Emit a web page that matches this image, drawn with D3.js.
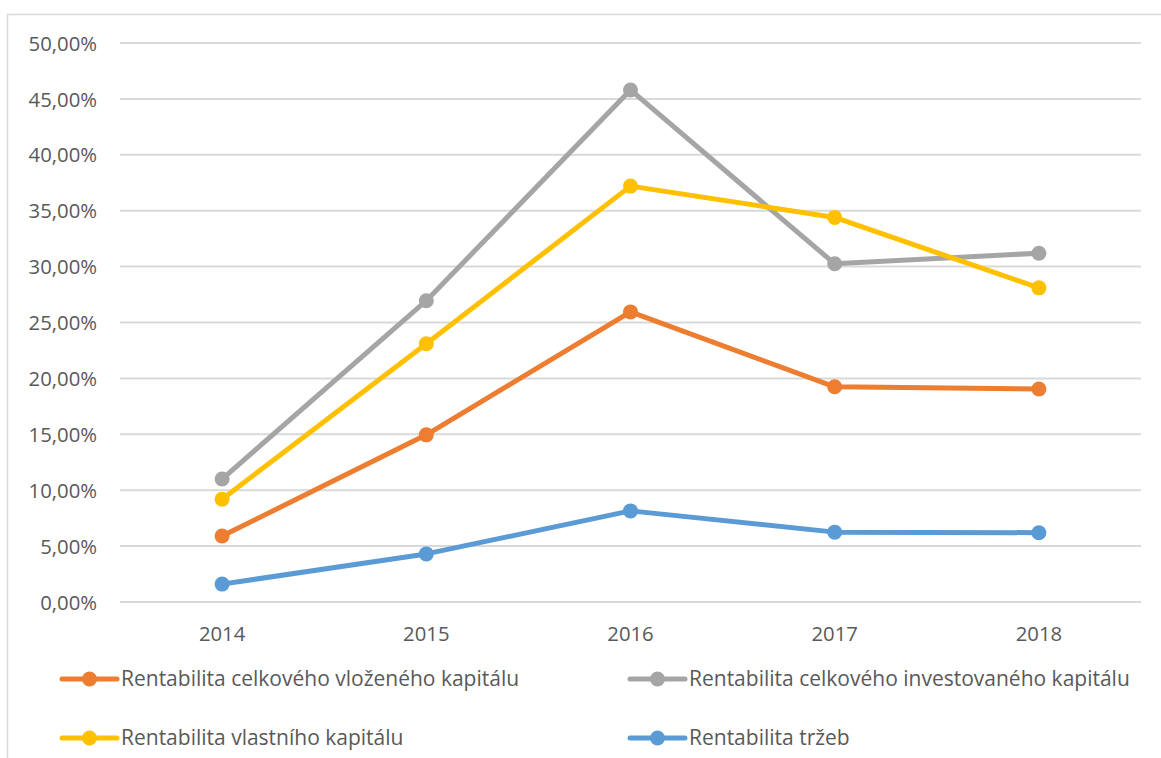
<!DOCTYPE html>
<html><head><meta charset="utf-8">
<script src="https://cdn.jsdelivr.net/npm/d3@7"></script>
<style>body{margin:0;background:#fff;} svg{display:block;}</style>
</head><body>
<svg id="chart" width="1161" height="758"></svg>
<script>
const years = ["2014","2015","2016","2017","2018"];
const seriesNames = [
  "Rentabilita celkového vloženého kapitálu",
  "Rentabilita celkového investovaného kapitálu",
  "Rentabilita vlastního kapitálu",
  "Rentabilita tržeb"
];
const vlozeny = [5.9, 14.95, 25.95, 19.25, 19.05];
const investovany = [11.0, 26.95, 45.8, 30.25, 31.2];
const vlastni = [9.2, 23.1, 37.2, 34.4, 28.1];
const trzby = [1.6, 4.3, 8.15, 6.25, 6.2];
const yTicks = [0,5,10,15,20,25,30,35,40,45,50];
const colors = ["#ED7D31","#A5A5A5","#FFC000","#5B9BD5"];
const allValues = [vlozeny, investovany, vlastni, trzby];

(function(){
const svg = d3.select("#chart");
const font = "Open Sans, sans-serif";
const textColor = "#595959";

svg.append("path").attr("d","M7.5,758 V14.5 H1161").attr("fill","none").attr("stroke","#D9D9D9").attr("stroke-width",1.5);

const pLeft = 120, pRight = 1141, pTop = 43, pBottom = 602;
const x = d3.scaleBand().domain(years).range([pLeft,pRight]);
const y = d3.scaleLinear().domain([0,50]).range([pBottom,pTop]);

svg.append("g").selectAll("line").data(yTicks).join("line")
  .attr("x1",pLeft).attr("x2",pRight)
  .attr("y1",d=>y(d)).attr("y2",d=>y(d))
  .attr("stroke","#D9D9D9").attr("stroke-width",2);

const fmt = d => d.toFixed(2).replace(".",",") + "%";
const yAxis = svg.append("g").attr("transform",`translate(97,0)`)
  .call(d3.axisLeft(y).tickValues(yTicks).tickFormat(fmt).tickSize(0).tickPadding(0));
yAxis.select(".domain").remove();
yAxis.selectAll("text").attr("font-family",font).attr("font-size",20.3).attr("fill",textColor).attr("dy","0.35em");

const xAxis = svg.append("g").attr("transform",`translate(0,${pBottom})`)
  .call(d3.axisBottom(x).tickSize(0).tickPadding(0));
xAxis.select(".domain").remove();
xAxis.selectAll("text").attr("font-family",font).attr("font-size",20.3).attr("fill",textColor).attr("dy","0.35em").attr("y",32);

const line = d3.line().x((d,i)=>x(years[i])+x.bandwidth()/2).y(d=>y(d));
allValues.forEach((vals,k)=>{
  const g = svg.append("g");
  g.append("path").attr("d",line(vals)).attr("fill","none").attr("stroke",colors[k])
    .attr("stroke-width",5).attr("stroke-linejoin","round").attr("stroke-linecap","round");
  g.selectAll("circle").data(vals).join("circle")
    .attr("cx",(d,i)=>x(years[i])+x.bandwidth()/2).attr("cy",d=>y(d)).attr("r",7.5).attr("fill",colors[k]);
});

const legendPos = [[62,679],[630,679],[62,738],[630,738]];
seriesNames.forEach((name,k)=>{
  const [lx,ly] = legendPos[k];
  const g = svg.append("g").attr("transform",`translate(${lx},${ly})`);
  g.append("line").attr("x1",0).attr("x2",55).attr("y1",0).attr("y2",0).attr("stroke",colors[k]).attr("stroke-width",5).attr("stroke-linecap","round");
  g.append("circle").attr("cx",27.5).attr("cy",0).attr("r",7.5).attr("fill",colors[k]);
  g.append("text").attr("x",59).attr("y",0).attr("dy","0.35em").attr("font-family",font).attr("font-size",21).attr("fill",textColor).text(name);
});
})();
</script>
</body></html>
